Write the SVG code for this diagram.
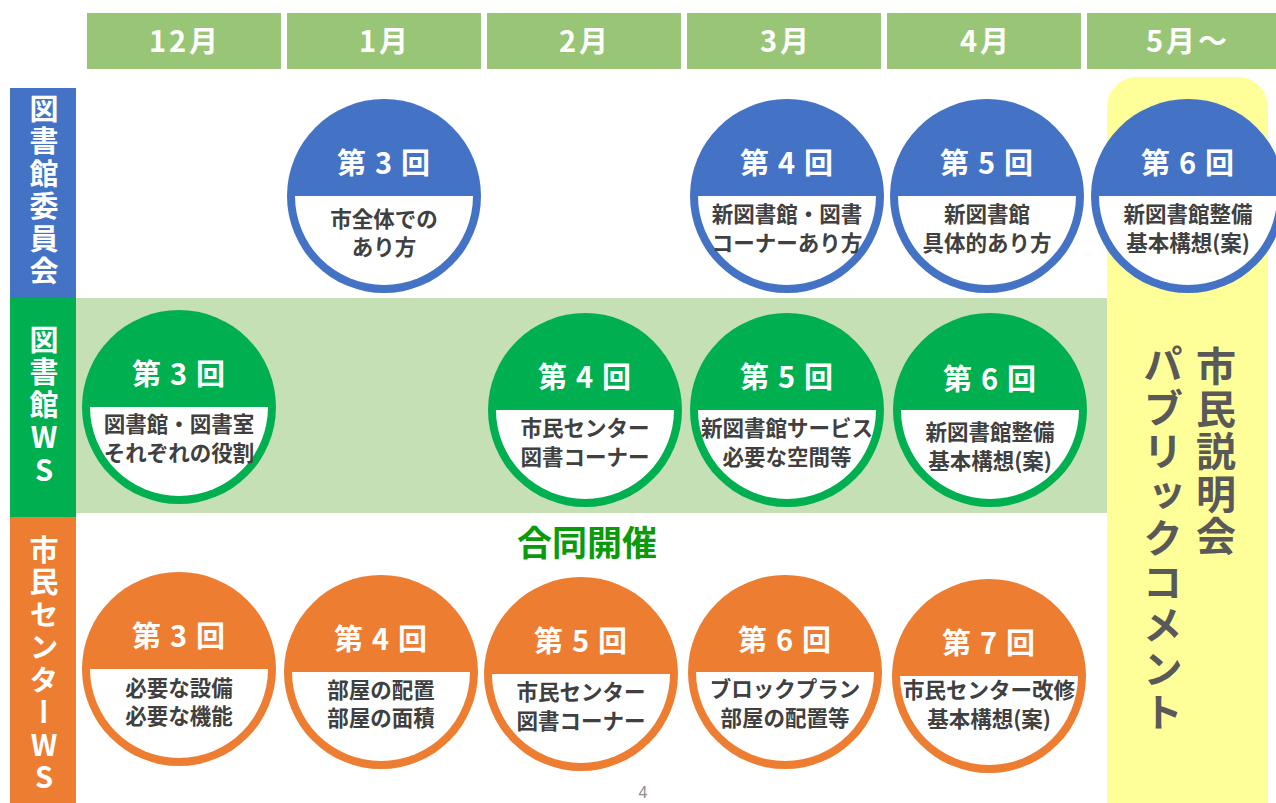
<svg xmlns="http://www.w3.org/2000/svg" width="1276" height="803" viewBox="0 0 1276 803">
<style>
.hdr{fill:#98C676}
.hdrt{font-family:"Noto Sans CJK JP","Noto Sans",sans-serif;font-weight:bold;font-size:29px;fill:#fff;text-anchor:middle;letter-spacing:3px}
.vlab{font-family:"Noto Sans CJK JP",sans-serif;font-weight:bold;font-size:29px;fill:#fff;writing-mode:vertical-rl;text-orientation:upright;letter-spacing:3.5px}
.vright{font-family:"Noto Sans CJK JP",sans-serif;font-weight:bold;font-size:40px;fill:#595959;writing-mode:vertical-rl;text-orientation:upright}
.ttl{font-family:"Noto Sans CJK JP",sans-serif;font-weight:bold;font-size:29px;fill:#fff;text-anchor:middle;letter-spacing:9px}
.body{font-family:"Noto Sans CJK JP",sans-serif;font-weight:bold;font-size:21.5px;fill:#404040;text-anchor:middle}
.blue{fill:#4472C4}
.green{fill:#00B050}
.orange{fill:#ED7D31}
.wh{fill:#fff}
</style>
<defs>
<path id="half" d="M-89,0 A89,89 0 0 0 89,0 Z"/>
</defs>
<rect width="1276" height="803" fill="#fff"/>
<!-- background bands -->
<g id="bands">
<rect x="75" y="298" width="1033" height="215" fill="#C5E0B4"/>
<rect x="1107" y="77" width="161" height="760" rx="30" ry="30" fill="#FFFF99"/>
</g>
<!-- header -->
<g id="header">
<rect class="hdr" x="87" y="13" width="194" height="56"/>
<rect class="hdr" x="287" y="13" width="194" height="56"/>
<rect class="hdr" x="487" y="13" width="194" height="56"/>
<rect class="hdr" x="687" y="13" width="194" height="56"/>
<rect class="hdr" x="887" y="13" width="194" height="56"/>
<rect class="hdr" x="1087" y="13" width="189" height="56"/>
<text class="hdrt" x="185" y="52">12月</text>
<text class="hdrt" x="385" y="52">1月</text>
<text class="hdrt" x="585" y="52">2月</text>
<text class="hdrt" x="786" y="52">3月</text>
<text class="hdrt" x="986" y="52">4月</text>
<text class="hdrt" x="1188" y="52">5月～</text>
</g>
<!-- row labels -->
<g id="label-committee">
<rect class="blue" x="10" y="88" width="66" height="210"/>
<text class="vlab" x="44" y="94">図書館委員会</text>
</g>
<g id="label-libws">
<rect class="green" x="10" y="298" width="66" height="219"/>
<text class="vlab" x="44" y="325">図書館WS</text>
</g>
<g id="label-centerws">
<rect class="orange" x="10" y="517" width="66" height="286"/>
<text class="vlab" x="44" y="535">市民センターWS</text>
</g>
<!-- right column -->
<g id="public">
<text class="vright" x="1216" y="346" style="letter-spacing:2.5px">市民説明会</text>
<text class="vright" x="1163" y="344" style="letter-spacing:3.5px">パブリックコメント</text>
</g>
<g id="joint">
<text x="587" y="556" font-family="Noto Sans CJK JP, sans-serif" font-weight="bold" font-size="35" fill="#0A9A0A" text-anchor="middle">合同開催</text>
</g>
<g id="page">
<text x="643" y="798" font-family="Liberation Sans, sans-serif" font-size="16" fill="#8c8c8c" text-anchor="middle">4</text>
</g>
<!-- committee row -->
<g id="c3" transform="translate(384,196)">
<circle class="blue" r="97"/><use href="#half" class="wh"/>
<text class="ttl" x="4" y="-22">第3回</text>
<text class="body" y="31">市全体での</text>
<text class="body" y="59">あり方</text>
</g>
<g id="c4" transform="translate(787,196)">
<circle class="blue" r="97"/><use href="#half" class="wh"/>
<text class="ttl" x="4" y="-22">第4回</text>
<text class="body" y="26">新図書館・図書</text>
<text class="body" y="55">コーナーあり方</text>
</g>
<g id="c5" transform="translate(987,196)">
<circle class="blue" r="97"/><use href="#half" class="wh"/>
<text class="ttl" x="4" y="-22">第5回</text>
<text class="body" y="26">新図書館</text>
<text class="body" y="55">具体的あり方</text>
</g>
<g id="c6" transform="translate(1188,196)">
<circle class="blue" r="97"/><use href="#half" class="wh"/>
<text class="ttl" x="4" y="-22">第6回</text>
<text class="body" y="26">新図書館整備</text>
<text class="body" y="55">基本構想(案)</text>
</g>
<!-- library WS row -->
<g id="l3" transform="translate(179,407)">
<circle class="green" r="97"/><use href="#half" class="wh"/>
<text class="ttl" x="4" y="-22">第3回</text>
<text class="body" y="25">図書館・図書室</text>
<text class="body" y="54">それぞれの役割</text>
</g>
<g id="l4" transform="translate(585,410)">
<circle class="green" r="97"/><use href="#half" class="wh"/>
<text class="ttl" x="4" y="-22">第4回</text>
<text class="body" y="26">市民センター</text>
<text class="body" y="55">図書コーナー</text>
</g>
<g id="l5" transform="translate(787,410)">
<circle class="green" r="97"/><use href="#half" class="wh"/>
<text class="ttl" x="4" y="-22">第5回</text>
<text class="body" y="26">新図書館サービス</text>
<text class="body" y="55">必要な空間等</text>
</g>
<g id="l6" transform="translate(990,410)">
<circle class="green" r="97"/><use href="#half" class="wh"/>
<text class="ttl" x="4" y="-20">第6回</text>
<text class="body" y="30">新図書館整備</text>
<text class="body" y="59">基本構想(案)</text>
</g>
<!-- center WS row -->
<g id="o3" transform="translate(179,669)">
<circle class="orange" r="97"/><use href="#half" class="wh"/>
<text class="ttl" x="4" y="-22">第3回</text>
<text class="body" y="27">必要な設備</text>
<text class="body" y="55">必要な機能</text>
</g>
<g id="o4" transform="translate(381,672)">
<circle class="orange" r="97"/><use href="#half" class="wh"/>
<text class="ttl" x="4" y="-22">第4回</text>
<text class="body" y="26">部屋の配置</text>
<text class="body" y="54">部屋の面積</text>
</g>
<g id="o5" transform="translate(581,674)">
<circle class="orange" r="97"/><use href="#half" class="wh"/>
<text class="ttl" x="4" y="-22">第5回</text>
<text class="body" y="26">市民センター</text>
<text class="body" y="55">図書コーナー</text>
</g>
<g id="o6" transform="translate(785,672)">
<circle class="orange" r="97"/><use href="#half" class="wh"/>
<text class="ttl" x="4" y="-21">第6回</text>
<text class="body" y="25">ブロックプラン</text>
<text class="body" y="54">部屋の配置等</text>
</g>
<g id="o7" transform="translate(989,676)">
<circle class="orange" r="97"/><use href="#half" class="wh"/>
<text class="ttl" x="4" y="-22">第7回</text>
<text class="body" y="22">市民センター改修</text>
<text class="body" y="51">基本構想(案)</text>
</g>
<g id="connectors"></g>
</svg>
